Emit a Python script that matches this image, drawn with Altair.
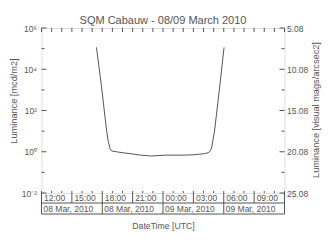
import math
import altair as alt
import pandas as pd

# ---- data ----
hours = [5.43, 5.93, 6.42, 6.6, 6.75, 6.91, 7.5, 8.06, 9.0, 9.7, 10.4, 10.86, 11.5,
         12.35, 13.3, 14.3, 15.0, 15.6, 16.1, 16.45, 16.65, 16.8, 17.1, 17.6, 18.03]
lum = [1.15e5, 1.41e3, 11.2, 3.16, 1.48, 1.10, 0.98, 0.89, 0.78, 0.69, 0.65, 0.62, 0.65,
       0.69, 0.68, 0.69, 0.71, 0.76, 0.81, 0.89, 1.07, 1.48, 11.2, 1.41e3, 1.15e5]

left_vals = [1e-2, 1e0, 1e2, 1e4, 1e6]
left_labels = ["10⁻²", "10⁰", "10²", "10⁴", "10⁶"]
left_minor = [1e-1, 1e1, 1e3, 1e5]
right_vals = [5.08, 10.08, 15.08, 20.08, 25.08]
right_minor = [7.58, 12.58, 17.58, 22.58]

hour_ticks = list(range(0, 25))
time_ticks = [0, 3, 6, 9, 12, 15, 18, 21]
time_labels = ["12:00", "15:00", "18:00", "21:00", "00:00", "03:00", "06:00", "09:00"]
time_seps = [0, 3, 6, 9, 12, 15, 18, 21, 24]
date_ticks = [0, 6, 12, 18]
date_labels = ["08 Mar, 2010", "08 Mar, 2010", "09 Mar, 2010", "09 Mar, 2010"]
date_seps = [0, 6, 12, 18, 24]

TITLE = "SQM Cabauw - 08/09 March 2010"
XTITLE = "DateTime [UTC]"
YTITLE = "Luminance [mcd/m2]"
Y2TITLE = "Luminance [visual mags/arcsec2]"

# ---- style ----
W, H = 243, 165
FONT = "Liberation Sans"
TXT = "#555555"
LINE = "#555555"
FRAME = "#555555"
FS = 8.5
TFS = 9.2

xs = alt.Scale(domain=[0, 24], nice=False, zero=False)
ys = alt.Scale(type="log", domain=[1e-2, 1e6], nice=False)
ms = alt.Scale(domain=[25.08, 5.08], nice=False, zero=False)

mapping = ",".join(f"'{round(math.log10(v))}':'{l}'" for v, l in zip(left_vals, left_labels))
label_expr = "{" + mapping + "}['' + round(log(datum.value)/LN10)]"

df = pd.DataFrame({"h": hours, "L": lum})

line = alt.Chart(df).mark_line(color=LINE, strokeWidth=1).encode(
    x=alt.X("h:Q", scale=xs, axis=alt.Axis(
        title=XTITLE, labels=False, ticks=False, domain=False, grid=False,
        titlePadding=28, titleFontSize=8.7, titleFont=FONT, titleColor=TXT,
        titleFontWeight="normal")),
    y=alt.Y("L:Q", scale=ys, axis=alt.Axis(
        values=left_vals, labelExpr=label_expr, ticks=False, domain=False, grid=False,
        labelPadding=5, labelFontSize=FS, labelFont=FONT, labelColor=TXT,
        title=YTITLE, titleFontSize=TFS, titleFont=FONT, titleColor=TXT,
        titleFontWeight="normal", titleX=-28.5, titleY=72.5, titleBaseline="middle",
        titleAngle=270)),
)

left_major = alt.Chart(pd.DataFrame({"L": left_vals})).mark_rule(color=FRAME).encode(
    x=alt.value(0), x2=alt.value(5), y=alt.Y("L:Q", scale=ys, axis=None))
left_min = alt.Chart(pd.DataFrame({"L": left_minor})).mark_rule(color=FRAME).encode(
    x=alt.value(0), x2=alt.value(3), y=alt.Y("L:Q", scale=ys, axis=None))

right_major = alt.Chart(pd.DataFrame({"m": right_vals})).mark_rule(color=FRAME).encode(
    x=alt.value(W), x2=alt.value(W - 5),
    y=alt.Y("m:Q", scale=ms, axis=alt.Axis(
        orient="right", values=right_vals, format=".2f", ticks=False, domain=False,
        grid=False, labelPadding=2, labelFontSize=FS, labelFont=FONT, labelColor=TXT,
        title=Y2TITLE, titleFontSize=TFS, titleFont=FONT, titleColor=TXT,
        titleFontWeight="normal", titleX=30.5, titleY=81.5, titleBaseline="middle",
        titleAngle=270)))
right_min = alt.Chart(pd.DataFrame({"m": right_minor})).mark_rule(color=FRAME).encode(
    x=alt.value(W), x2=alt.value(W - 3), y=alt.Y("m:Q", scale=ms, axis=None))

hdf = pd.DataFrame({"h": hour_ticks})
top_ticks = alt.Chart(hdf).mark_rule(color=FRAME).encode(
    x=alt.X("h:Q", scale=xs), y=alt.value(0), y2=alt.value(4))
bot_ticks = alt.Chart(hdf).mark_rule(color=FRAME).encode(
    x=alt.X("h:Q", scale=xs), y=alt.value(H), y2=alt.value(H - 2))

tsep = alt.Chart(pd.DataFrame({"h": time_seps})).mark_rule(color=FRAME).encode(
    x=alt.X("h:Q", scale=xs), y=alt.value(H), y2=alt.value(H + 10))
dsep = alt.Chart(pd.DataFrame({"h": date_seps})).mark_rule(color=FRAME).encode(
    x=alt.X("h:Q", scale=xs), y=alt.value(H + 10), y2=alt.value(H + 21))
one = pd.DataFrame({"k": [0]})
row_line = alt.Chart(one).mark_rule(color=FRAME).encode(
    x=alt.value(0), x2=alt.value(W), y=alt.value(H + 10))
bot_line = alt.Chart(one).mark_rule(color=FRAME).encode(
    x=alt.value(0), x2=alt.value(W), y=alt.value(H + 21))

tlab = alt.Chart(pd.DataFrame({"h": time_ticks, "t": time_labels})).mark_text(
    align="left", baseline="middle", dx=2.5, fontSize=FS, font=FONT, color=TXT).encode(
    x=alt.X("h:Q", scale=xs), y=alt.value(H + 5.2), text="t:N")
dlab = alt.Chart(pd.DataFrame({"h": date_ticks, "t": date_labels})).mark_text(
    align="left", baseline="middle", dx=2, fontSize=FS, font=FONT, color=TXT).encode(
    x=alt.X("h:Q", scale=xs), y=alt.value(H + 15.8), text="t:N")

chart = alt.layer(
    line, left_major, left_min, right_major, right_min, top_ticks, bot_ticks,
    tsep, dsep, row_line, bot_line, tlab, dlab
).resolve_scale(y="independent").properties(
    width=W, height=H,
    title=alt.TitleParams(TITLE, fontSize=11, font=FONT, color=TXT,
                          fontWeight="normal", offset=0, dy=2),
    autosize=alt.AutoSizeParams(type="none"),
    padding={"left": 41.5, "top": 28, "right": 44.5, "bottom": 58},
).configure_view(stroke=FRAME, strokeWidth=1).configure(background="white")

chart.save("out.html", embed_options={"renderer": "svg", "actions": False})
